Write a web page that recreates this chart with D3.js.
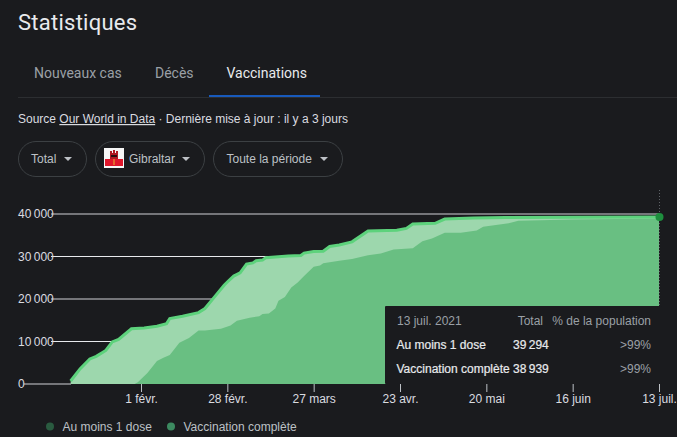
<!DOCTYPE html>
<html lang="fr">
  <head>
    <meta charset="utf-8">
    <title>Statistiques</title>
    <script src="https://d3js.org/d3.v7.min.js"></script>
    <style>
      html, body { margin: 0; padding: 0; background: #1a1b1e; overflow: hidden; }
      svg { display: block; font-family: "Liberation Sans", Arial, sans-serif; }
      .axis path { display: none; }
      .axis text { font-family: "Liberation Sans", Arial, sans-serif; font-size: 12px; fill: #dadce0; }
      .head { font-family: Roboto, sans-serif; }
    </style>
  </head>
  <body>
    <div id="chart"></div>
    <script>
      var dose1Dates = ["2021-01-10", "2021-01-13", "2021-01-16", "2021-01-18", "2021-01-21", "2021-01-23", "2021-01-25", "2021-01-29",
        "2021-02-02", "2021-02-06", "2021-02-09", "2021-02-10", "2021-02-14", "2021-02-19", "2021-02-21", "2021-02-24", "2021-02-27", "2021-02-28",
        "2021-03-02", "2021-03-04", "2021-03-06", "2021-03-08", "2021-03-09", "2021-03-11", "2021-03-12", "2021-03-19", "2021-03-23", "2021-03-24", "2021-03-27", "2021-03-30",
        "2021-04-01", "2021-04-04", "2021-04-08", "2021-04-13", "2021-04-22", "2021-04-25", "2021-04-27",
        "2021-05-04", "2021-05-07", "2021-05-16", "2021-05-26", "2021-06-16", "2021-07-13"];
      var dose1Values = [700, 3600, 5900, 6500, 7900, 9900, 10500, 13000,
        13200, 13600, 14200, 15400, 15950, 16800, 17750, 20500, 23250, 24000,
        25400, 26150, 28200, 28500, 29000, 29150, 29700, 30100, 30250, 30800, 31200, 31250,
        32350, 32700, 33450, 35980, 36200, 36600, 37630,
        37800, 38800, 39040, 39200, 39250, 39294];

      var fullDates = ["2021-01-30", "2021-01-31", "2021-02-03", "2021-02-06", "2021-02-08", "2021-02-10", "2021-02-13", "2021-02-16", "2021-02-19", "2021-02-21", "2021-02-26",
        "2021-03-01", "2021-03-03", "2021-03-07", "2021-03-10", "2021-03-11", "2021-03-13", "2021-03-15", "2021-03-16", "2021-03-18", "2021-03-20", "2021-03-22", "2021-03-24", "2021-03-27", "2021-03-29", "2021-03-30",
        "2021-04-04", "2021-04-08", "2021-04-13", "2021-04-17", "2021-04-21", "2021-04-27", "2021-04-30",
        "2021-05-03", "2021-05-07", "2021-05-12", "2021-05-17", "2021-05-19", "2021-05-27", "2021-05-30", "2021-06-16", "2021-07-13"];
      var fullValues = [0, 400, 2600, 5400, 6200, 6800, 9700, 10800, 12570, 12570, 13000,
        13750, 14900, 15600, 15950, 16500, 16600, 17750, 19560, 20500, 22700, 23900, 25400, 27570, 27900, 28440,
        29000, 29400, 30320, 30700, 31650, 31970, 33600,
        34250, 35600, 35600, 36130, 37000, 37800, 38400, 38730, 38939];

      var xTickDates = ["2021-02-01", "2021-02-28", "2021-03-27", "2021-04-23", "2021-05-20", "2021-06-16", "2021-07-13"];
      var xTickLabels = ["1 févr.", "28 févr.", "27 mars", "23 avr.", "20 mai", "16 juin", "13 juil."];
      var yTicks = [0, 10000, 20000, 30000, 40000];
      var yTickLabels = ["0", "10\u202f000", "20\u202f000", "30\u202f000", "40\u202f000"];
      var tabs = ["Nouveaux cas", "Décès", "Vaccinations"];
      var chips = ["Total", "Gibraltar", "Toute la période"];
      var legendLabels = ["Au moins 1 dose", "Vaccination complète"];
      var tooltipRows = ["Au moins 1 dose", "Vaccination complète"];
      var tooltipTotals = ["39\u202f294", "38\u202f939"];
      var tooltipShares = [">99%", ">99%"];

      var width = 677;
      var height = 437;
      var parseDate = d3.utcParse("%Y-%m-%d");

      var svg = d3.select("#chart")
        .append("svg")
        .attr("width", width)
        .attr("height", height);

      // header
      svg.append("text").attr("class", "head").attr("x", 18).attr("y", 30)
        .style("font-size", "22px").style("letter-spacing", "0.25px").attr("fill", "#e8eaed").text("Statistiques");

      var tabX = [34, 155, 226.5];
      svg.selectAll(".tab").data(tabs).enter().append("text")
        .attr("class", "tab head")
        .attr("x", function(d, i){return tabX[i];})
        .attr("y", 78)
        .style("font-size", "14px")
        .attr("fill", function(d, i){return i == 2 ? "#e8eaed" : "#9aa0a6";})
        .text(function(d){return d;});

      svg.append("rect").attr("x", 18).attr("y", 97).attr("width", 659).attr("height", 1).attr("fill", "#2c2e31");
      svg.append("rect").attr("x", 209).attr("y", 95).attr("width", 111).attr("height", 2).attr("fill", "#185abc");

      var source = svg.append("text").attr("x", 18).attr("y", 123)
        .style("font-size", "12px").attr("fill", "#dadce0");
      source.append("tspan").text("Source ");
      source.append("tspan").attr("text-decoration", "underline").text("Our World in Data");
      source.append("tspan").text(" · Dernière mise à jour : il y a 3 jours");

      // filter chips
      var chipX = [18, 95, 213];
      var chipW = [69, 110, 130];
      var chipTextX = [31, 129, 226.5];
      var chip = svg.selectAll(".chip").data(chips).enter().append("g").attr("class", "chip");
      chip.append("rect")
        .attr("x", function(d, i){return chipX[i] + 0.5;})
        .attr("y", 141.5)
        .attr("width", function(d, i){return chipW[i] - 1;})
        .attr("height", 35)
        .attr("rx", 17.5)
        .attr("fill", "none")
        .attr("stroke", "#3c4043");
      chip.append("text")
        .attr("x", function(d, i){return chipTextX[i];})
        .attr("y", 163)
        .style("font-size", "12px")
        .attr("fill", "#bdc1c6")
        .text(function(d){return d;});
      chip.append("path")
        .attr("d", function(d, i){
          var c = chipX[i] + chipW[i] - 19;
          return `M${c-4},157 L${c+4},157 L${c},161 Z`;
        })
        .attr("fill", "#bdc1c6");

      // Gibraltar flag
      var flag = svg.append("g");
      flag.append("rect").attr("x", 104).attr("y", 148).attr("width", 20).attr("height", 20).attr("fill", "#f6f6f6");
      flag.append("rect").attr("x", 105).attr("y", 159).attr("width", 18).attr("height", 7).attr("fill", "#e0162b");
      flag.append("rect").attr("x", 110).attr("y", 153).attr("width", 8).attr("height", 6).attr("fill", "#b01822");
      flag.append("rect").attr("x", 110).attr("y", 151).attr("width", 2).attr("height", 2).attr("fill", "#b01822");
      flag.append("rect").attr("x", 113).attr("y", 150).attr("width", 2).attr("height", 3).attr("fill", "#b01822");
      flag.append("rect").attr("x", 116).attr("y", 151).attr("width", 2).attr("height", 2).attr("fill", "#b01822");
      flag.append("rect").attr("x", 111).attr("y", 155).attr("width", 6).attr("height", 2).attr("fill", "#2a0c10");
      flag.append("rect").attr("x", 113.5).attr("y", 159).attr("width", 1).attr("height", 6).attr("fill", "#e8b830");

      // scales
      var xScale = d3.scaleUtc()
        .domain([parseDate("2021-02-01"), parseDate("2021-07-13")])
        .range([141, 659]);
      var yScale = d3.scaleLinear()
        .domain([0, 40000])
        .range([384, 214]);

      // y axis, the tick lines serve as grid lines
      var yAxis = svg.append("g")
        .attr("class", "axis")
        .attr("transform", "translate(659,0)")
        .call(d3.axisLeft(yScale)
          .tickValues(yTicks)
          .tickSize(608)
          .tickFormat(function(d, i){return yTickLabels[i];}));

      yAxis.selectAll("line")
        .attr("stroke", function(d){return d % 20000 == 0 ? "#75767a" : "#e8eaed";})
        .attr("stroke-width", function(d){return d % 20000 == 0 ? 2 : 1;})
        .attr("y1", -0.5)
        .attr("y2", -0.5)
        .attr("x1", function(d){return d == 0 ? -588 : 0;})
        .attr("x2", function(d){return d == 0 ? -635 : -608;});
      yAxis.selectAll("text")
        .attr("text-anchor", "start")
        .attr("x", -641);

      var dose1 = dose1Dates.map(function(d, i){return {date: parseDate(d), value: dose1Values[i]};});
      var full = fullDates.map(function(d, i){return {date: parseDate(d), value: fullValues[i]};});

      var area = d3.area()
        .x(function(d){return xScale(d.date);})
        .y0(yScale(0))
        .y1(function(d){return yScale(d.value);});
      var line = d3.line()
        .x(function(d){return xScale(d.date);})
        .y(function(d){return yScale(d.value);});

      svg.append("path").datum(dose1).attr("d", area).attr("fill", "#9dd7ad");
      svg.append("path").datum(full).attr("d", area).attr("fill", "#69bf82");
      svg.append("path").datum(dose1).attr("d", line)
        .attr("fill", "none").attr("stroke", "#5dd27c").attr("stroke-width", 3);

      // hover line and end point
      var last = dose1[dose1.length - 1];
      svg.append("line")
        .attr("x1", xScale(last.date) + 0.5).attr("x2", xScale(last.date) + 0.5)
        .attr("y1", 190).attr("y2", 384)
        .attr("stroke", "#5f6368").attr("stroke-dasharray", "1,2");
      svg.append("circle")
        .attr("cx", xScale(last.date) + 0.5).attr("cy", yScale(last.value)).attr("r", 4)
        .attr("fill", "#1e8e3e");

      // x axis
      var xAxis = svg.append("g")
        .attr("class", "axis")
        .attr("transform", "translate(0,384)")
        .call(d3.axisBottom(xScale)
          .tickValues(xTickDates.map(parseDate))
          .tickSize(8)
          .tickFormat(function(d, i){return xTickLabels[i];}));
      xAxis.selectAll("line").attr("stroke", "#bdc1c6");
      xAxis.selectAll("text").attr("y", 18.5).attr("dy", 0);

      // tooltip
      var tip = svg.append("g").attr("transform", "translate(385,306)");
      tip.append("rect").attr("width", 277).attr("height", 78).attr("rx", 1).attr("fill", "#1a1b1e");
      tip.append("text").attr("x", 12).attr("y", 19).style("font-size", "12px").attr("fill", "#9aa0a6").text("13 juil. 2021");
      tip.append("text").attr("x", 158).attr("y", 19).attr("text-anchor", "end").style("font-size", "12px").attr("fill", "#9aa0a6").text("Total");
      tip.append("text").attr("x", 266).attr("y", 19).attr("text-anchor", "end").style("font-size", "12px").attr("fill", "#9aa0a6").text("% de la population");

      var tipRow = tip.selectAll(".row").data(tooltipRows).enter().append("g").attr("class", "row")
        .attr("transform", function(d, i){return `translate(0,${43 + i * 24})`;});
      tipRow.append("text").attr("x", 11.5)
        .style("font-size", "12px").attr("fill", "#e8eaed").attr("stroke", "#e8eaed").attr("stroke-width", 0.2)
        .text(function(d){return d;});
      tipRow.append("text").attr("x", 128)
        .style("font-size", "12px").attr("fill", "#e8eaed").attr("stroke", "#e8eaed").attr("stroke-width", 0.2)
        .text(function(d, i){return tooltipTotals[i];});
      tipRow.append("text").attr("x", 266).attr("text-anchor", "end")
        .style("font-size", "12px").attr("fill", "#9aa0a6")
        .text(function(d, i){return tooltipShares[i];});

      // legend
      var legendX = [50, 171];
      var legendColors = ["#2a5b40", "#3c8a60"];
      var legend = svg.selectAll(".legend").data(legendLabels).enter().append("g").attr("class", "legend");
      legend.append("circle")
        .attr("cx", function(d, i){return legendX[i];})
        .attr("cy", 426.5)
        .attr("r", 4)
        .attr("fill", function(d, i){return legendColors[i];});
      legend.append("text")
        .attr("x", function(d, i){return legendX[i] + 12.5;})
        .attr("y", 431)
        .style("font-size", "12px")
        .attr("fill", "#bdc1c6")
        .text(function(d){return d;});
    </script>
  </body>
</html>
